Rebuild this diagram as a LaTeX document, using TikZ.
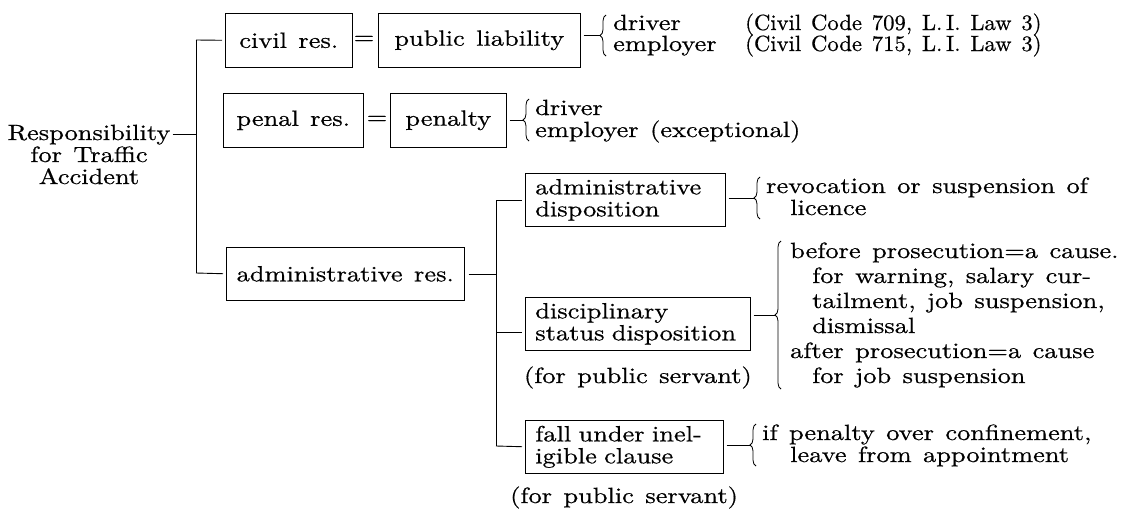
\documentclass[tikz,border=0pt]{standalone}
\usepackage{fontspec}
\setmainfont{lmroman10-regular.otf}[FakeStretch=1.2,WordSpace=1.3,FakeBold=0.6]
\newfontfamily\citefont{lmroman10-regular.otf}[FakeStretch=1.03,WordSpace=1.3,FakeBold=0.6]
\usetikzlibrary{decorations.pathreplacing}
\begin{document}
\begin{tikzpicture}[x=1pt,y=-1pt,
  font=\fontsize{22}{22}\selectfont,
  box/.style={draw, line width=0.6pt, inner sep=0pt, anchor=north west},
  mbox/.style={box, align=left, inner xsep=10pt, minimum height=53pt},
  txt/.style={inner sep=0pt, anchor=base west},
  cite/.style={txt, font=\fontsize{22}{22}\citefont},
  link/.style={line width=0.9pt},
  brc/.style={line width=0.8pt, decorate, decoration={brace, amplitude=6pt}},
]
\useasboundingbox (0,0) rectangle (1128,509);

% ---------- left title
\node[inner sep=0pt, anchor=base] (r1) at (89,140) {Responsibility};
\node[inner sep=0pt, anchor=base] (r2) at (89,162) {for Traffic};
\node[inner sep=0pt, anchor=base] (r3) at (89,184) {Accident};

% ---------- main vertical
\coordinate (vTop) at (196,40);
\coordinate (vR) at (196,134);
\coordinate (vBot) at (196,273);
\draw[link] (vTop) -- (vBot);
\draw[link, shorten <=2pt] (r1.east |- vR) -- (vR);

% ---------- row A
\node[box, minimum width=127pt, minimum height=54pt] (civil) at (225,13) {civil res.};
\node (eqA) at (364,40) {=};
\node[box, minimum width=202pt, minimum height=54pt] (publ) at (378,13) {public liability};
\draw[link, shorten >=3pt] (vTop) -- (civil.west);
\coordinate (tipA) at (600,35.5);
\draw[brc] (606,56) -- (606,15);
\draw[link, shorten <=3pt] (publ.east |- tipA) -- (tipA);
\node[txt] (dA1) at (613,30) {driver};
\node[txt] (dA2) at (613,51) {employer};
\node[cite] (cA1) at (745,30) {(Civil Code 709, L.\,I. Law 3)};
\node[cite] (cA2) at (745,51) {(Civil Code 715, L.\,I. Law 3)};

% ---------- row B
\node[box, minimum width=140pt, minimum height=54pt] (penal) at (223,93) {penal res.};
\node (eqB) at (377,120) {=};
\node[box, minimum width=116pt, minimum height=54pt] (pen) at (390,93) {penalty};
\coordinate (tipB) at (523,120);
\draw[brc] (529,141) -- (529,99);
\draw[link, shorten <=3pt] (pen.east |- tipB) -- (tipB);
\node[txt] (dB1) at (535,115) {driver};
\node[txt] (dB2) at (535,137) {employer (exceptional)};

% ---------- administrative res.
\node[box, minimum width=238pt, minimum height=53pt] (adres) at (226,247) {administrative res.};
\draw[link, shorten >=3pt] (vBot) -- (adres.west);

\coordinate (wTop) at (496,200);
\coordinate (wA) at (496,274);
\coordinate (wD) at (496,332);
\coordinate (wBot) at (496,446);
\draw[link] (wTop) -- (wBot);
\draw[link, shorten <=4pt] (adres.east |- wA) -- (wA);

% administrative disposition
\node[mbox, text width=180pt] (adisp) at (525,173) {administrative\\disposition};
\draw[link, shorten >=3pt] (wTop) -- (wTop -| adisp.west);
\coordinate (tipD) at (754,198);
\draw[brc] (760,219) -- (760,177);
\draw[link, shorten <=3pt] (adisp.east |- tipD) -- (tipD);
\node[txt] (rv1) at (766,193) {revocation or suspension of};
\node[txt] (rv2) at (790,215) {licence};

% disciplinary status disposition
\node[mbox, text width=205pt] (disc) at (525,297) {disciplinary\\status disposition};
\draw[link, shorten >=3pt] (wD) -- (wD -| disc.west);
\node[txt, anchor=base east] (fps1) at (752,383) {(for public servant)};
\coordinate (tipS) at (775,315);
\draw[brc] (781,389) -- (781,241);
\draw[link, shorten <=3pt] (disc.east |- tipS) -- (tipS);
\node[txt] (s1) at (790,258) {before prosecution=a cause.};
\node[txt] (s2) at (812,283) {for warning, salary cur-};
\node[txt] (s3) at (812,308) {tailment, job suspension,};
\node[txt] (s4) at (812,333) {dismissal};
\node[txt] (s5) at (790,358) {after prosecution=a cause};
\node[txt] (s6) at (812,383) {for job suspension};

% fall under ineligible clause
\node[mbox, text width=178pt] (fall) at (525,420) {fall under inel-\\igible clause};
\draw[link, shorten >=3pt] (wBot) -- (fall.west);
\node[txt] (fps2) at (510,503) {(for public servant)};
\coordinate (tipF) at (750,445);
\draw[brc] (756,466) -- (756,424);
\draw[link, shorten <=3pt] (fall.east |- tipF) -- (tipF);
\node[txt] (f1) at (762,440) {if penalty over confinement,};
\node[txt] (f2) at (790,462) {leave from appointment};
\end{tikzpicture}
\end{document}
